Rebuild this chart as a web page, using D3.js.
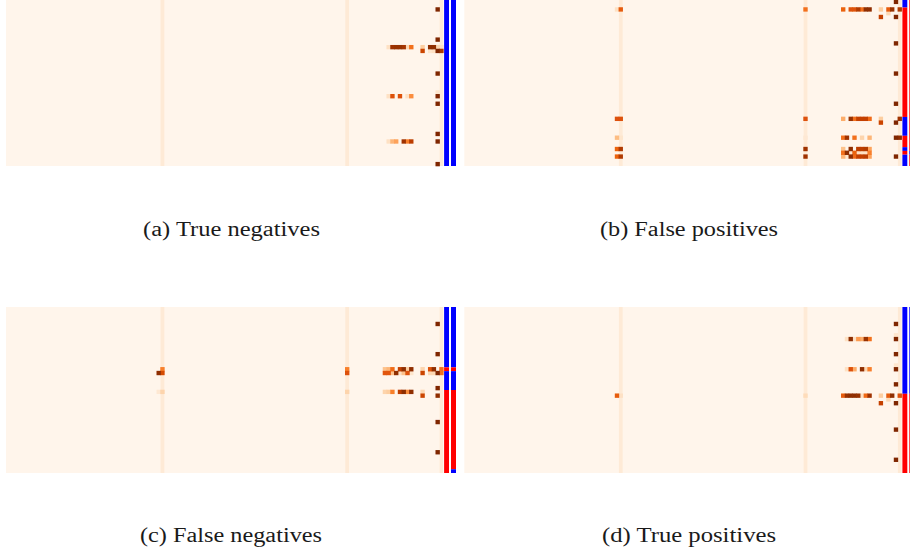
<!DOCTYPE html>
<html><head><meta charset="utf-8">
<script src="https://cdn.jsdelivr.net/npm/d3@7"></script>
<style>html,body{margin:0;padding:0;background:#fff;overflow:hidden}svg{display:block}</style>
</head><body><div id="chart"></div>
<script>
// matrix shape
const rowCount = 44, colCount = 119.36;
const paleCols = [41, 90, 115];
const paleValue = 0.085;
// [row, col, value]
const tnCells = [[2,114,1],[10,114,1],[12,101,.15],[12,102,.9],[12,103,.92],[12,104,.92],[12,105,.88],[12,106,.2],[12,107,.6],[12,110,.25],[12,112,.95],[12,113,.95],[12,114,.2],[12,115,.15],[13,110,.78],[13,112,.12],[13,113,.15],[13,114,1],[13,115,.85],[19,114,1],[24,114,.12],[25,101,.15],[25,102,.72],[25,104,.72],[25,106,.15],[25,107,.5],[25,114,1],[27,114,1],[35,114,1],[37,101,.15],[37,102,.35],[37,103,.42],[37,105,.9],[37,106,.55],[37,107,.82],[37,114,1],[43,114,1]];
const fpCells = [[0,114,1],[2,40,.15],[2,41,.68],[2,90,.6],[2,100,.65],[2,102,.72],[2,103,.72],[2,104,.85],[2,105,.6],[2,106,.95],[2,107,.95],[2,110,.25],[2,112,.68],[2,113,.92],[2,115,.85],[3,112,.2],[4,110,.8],[4,114,1],[11,114,1],[19,114,1],[27,114,1],[31,40,.72],[31,41,.72],[31,90,.72],[31,100,.38],[31,102,.92],[31,103,.6],[31,104,.8],[31,105,.8],[31,106,.8],[31,107,.62],[31,110,.25],[31,115,.9],[32,110,.78],[32,114,1],[36,40,.32],[36,41,.12],[36,90,.1],[36,100,.6],[36,101,.9],[36,103,.6],[36,105,.22],[36,107,.35],[36,114,1],[36,115,.95],[39,40,.65],[39,41,.85],[39,90,.9],[39,100,.3],[39,102,.95],[39,104,.82],[39,105,.82],[39,106,.85],[39,107,.42],[40,100,.6],[40,101,.95],[40,102,.12],[40,103,.65],[40,104,.15],[40,105,.15],[40,106,.15],[40,107,.55],[41,40,.65],[41,41,.85],[41,90,.9],[41,100,.35],[41,101,.12],[41,102,.95],[41,103,.62],[41,104,.8],[41,105,.8],[41,106,.82],[41,107,.42],[41,114,1]];
const fnCells = [[4,114,1],[12,114,1],[16,41,.55],[16,90,.55],[16,100,.3],[16,101,.35],[16,102,.62],[16,104,.8],[16,105,.95],[16,106,.25],[16,107,.95],[16,110,.22],[16,112,.72],[16,113,.95],[16,115,.6],[17,40,.95],[17,41,.75],[17,90,.72],[17,100,.7],[17,101,.7],[17,102,.3],[17,103,.95],[17,104,.15],[17,105,.3],[17,106,.72],[17,107,.12],[17,110,.78],[17,112,.2],[17,113,.2],[17,114,1],[17,115,.6],[21,114,1],[22,40,.1],[22,41,.22],[22,90,.22],[22,100,.22],[22,101,.25],[22,102,.55],[22,104,.82],[22,105,.95],[22,106,.5],[22,107,.95],[22,110,.2],[23,110,.78],[23,114,.95],[30,114,1],[38,114,1]];
const tpCells = [[4,114,1],[8,101,.15],[8,102,.95],[8,103,.15],[8,104,.45],[8,105,.38],[8,106,.92],[8,107,.6],[8,114,1],[7,114,.12],[12,114,1],[16,101,.15],[16,102,.72],[16,103,.38],[16,105,.95],[16,106,.2],[16,107,.55],[16,114,1],[15,114,.12],[20,114,1],[23,40,.68],[23,41,.15],[23,90,.18],[23,100,.68],[23,101,.92],[23,102,.95],[23,103,.95],[23,104,.92],[23,105,.15],[23,106,.62],[23,107,.9],[23,110,.25],[23,112,.68],[23,113,.95],[23,115,.72],[24,112,.2],[25,110,.8],[25,114,1],[32,114,1],[40,114,1]];
// label strips: [first row, row after last, class]
const tnStripA = [[0,44,"neg"]];
const tnStripB = [[0,44,"neg"]];
const fpStripA = [[0,2,"neg"],[2,31,"pos"],[31,36,"neg"],[36,39,"pos"],[39,40,"neg"],[40,41,"pos"],[41,44,"neg"]];
const fpStripB = [[0,40,"pos"],[40,41,"neg"],[41,44,"pos"]];
const fnStripA = [[0,16,"neg"],[16,17,"pos"],[17,22,"neg"],[22,44,"pos"]];
const fnStripB = [[0,16,"neg"],[16,17,"pos"],[17,22,"neg"],[22,43,"pos"],[43,44,"neg"]];
const tpStripA = [[0,23,"neg"],[23,44,"pos"]];
const tpStripB = [[0,23,"neg"],[23,44,"pos"]];
const captions = ["(a) True negatives","(b) False positives","(c) False negatives","(d) True positives"];

const W = 910, H = 552, panelW = 450, panelH = 166;
const panels = [
  {cells:tnCells, a:tnStripA, b:tnStripB, cap:captions[0], left:6, top:0, cx:231.5, cy:236, tw:177},
  {cells:fpCells, a:fpStripA, b:fpStripB, cap:captions[1], left:464.3, top:0, cx:689, cy:236, tw:178},
  {cells:fnCells, a:fnStripA, b:fnStripB, cap:captions[2], left:6, top:307, cx:231, cy:542, tw:182},
  {cells:tpCells, a:tpStripA, b:tpStripB, cap:captions[3], left:464.3, top:307, cx:689, cy:542, tw:174}
];
const x = d3.scaleLinear().domain([0,colCount]).range([0,panelW]);
const y = d3.scaleLinear().domain([0,rowCount]).range([0,panelH]);
const color = v => d3.interpolateOranges(v);
const stripColor = d3.scaleOrdinal().domain(["neg","pos"]).range(["#0000ff","#ff0000"]);
const bleed = 0.3;

const svg = d3.select("#chart").append("svg").attr("width",W).attr("height",H);
svg.append("defs").append("filter").attr("id","soft")
  .attr("x","-2%").attr("y","-2%").attr("width","104%").attr("height","104%")
  .append("feGaussianBlur").attr("stdDeviation",0.5);

panels.forEach(p => {
  const g = svg.append("g").attr("transform",`translate(${p.left},${p.top})`);
  g.append("rect").attr("width",x(115.9)).attr("height",panelH).attr("fill",color(0));
  const heat = g.append("g").attr("filter","url(#soft)");
  heat.selectAll("rect.pale").data(paleCols).join("rect").attr("class","pale")
    .attr("x",c=>x(c)).attr("y",0).attr("width",x(1)).attr("height",panelH).attr("fill",color(paleValue));
  heat.selectAll("rect.cell").data(p.cells.slice().sort((m,n)=>m[2]-n[2])).join("rect").attr("class","cell")
    .attr("x",d=>x(d[1])-bleed).attr("y",d=>y(d[0])-bleed)
    .attr("width",x(1)+2*bleed).attr("height",y(1)+2*bleed)
    .attr("fill",d=>color(d[2]));
  [[p.a,438.1,4.9],[p.b,445,5]].forEach(([strip,sx,sw]) => {
    g.append("g").selectAll("rect").data(strip).join("rect")
      .attr("x",sx).attr("width",sw)
      .attr("y",d=>y(d[0])).attr("height",d=>y(d[1])-y(d[0]))
      .attr("fill",d=>stripColor(d[2]));
  });
  svg.append("text").attr("x",p.cx).attr("y",p.cy).attr("text-anchor","middle")
    .attr("font-family","'Liberation Serif',serif").attr("font-size",20).attr("fill","#1a1a1a")
    .attr("textLength",p.tw).attr("lengthAdjust","spacingAndGlyphs")
    .text(p.cap);
});
</script></body></html>
